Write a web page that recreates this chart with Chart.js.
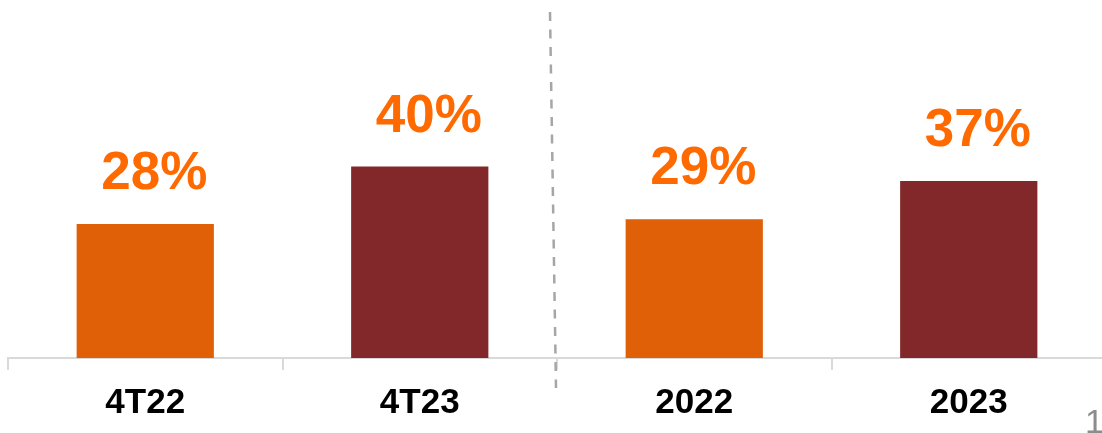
<!DOCTYPE html>
<html>
<head>
<meta charset="utf-8">
<script src="https://cdn.jsdelivr.net/npm/chart.js@4/dist/chart.umd.min.js"></script>
<style>
  html, body { margin: 0; padding: 0; background: #fff; overflow: hidden; }
  #wrap { position: relative; width: 1106px; height: 433px; }
  #page { position: absolute; left: 1085px; top: 402px; font: 34px "Liberation Sans", Arial, sans-serif; color: #8c8c8c; }
</style>
</head>
<body>
<div id="wrap">
  <canvas id="chart1" width="1106" height="433"></canvas>
  <div id="page">1</div>
</div>
<script>
const labels = ['4T22', '4T23', '2022', '2023'];
const values = [28, 40, 29, 37];
const barColors = ['#E06008', '#83282A', '#E06008', '#83282A'];

// percentage labels above each bar
const valueLabels = {
  id: 'valueLabels',
  afterDatasetsDraw(chart) {
    const ctx = chart.ctx;
    const meta = chart.getDatasetMeta(0);
    ctx.save();
    ctx.font = 'bold 53px "Liberation Sans", Arial, sans-serif';
    ctx.fillStyle = '#FF6A00';
    ctx.textAlign = 'center';
    ctx.textBaseline = 'alphabetic';
    meta.data.forEach((bar, i) => {
      ctx.fillText(values[i] + '%', bar.x + 9, bar.y - 35);
    });
    ctx.restore();
  }
};

// dashed separator between quarterly and yearly bars
const separator = {
  id: 'separator',
  afterDraw(chart) {
    const ctx = chart.ctx;
    const x = chart.scales.x;
    const mid = (x.getPixelForValue(1) + x.getPixelForValue(2)) / 2;
    ctx.save();
    ctx.strokeStyle = '#a6a6a6';
    ctx.lineWidth = 2.5;
    ctx.setLineDash([9, 8.5]);
    ctx.beginPath();
    ctx.moveTo(mid - 7, 12);
    ctx.lineTo(mid - 1, 388);
    ctx.stroke();
    ctx.restore();
  }
};

const ctx1 = document.getElementById('chart1').getContext('2d');
const chart1 = new Chart(ctx1, {
  type: 'bar',
  data: {
    labels: labels,
    datasets: [{
      data: values,
      backgroundColor: barColors,
      categoryPercentage: 1,
      barPercentage: 0.5
    }]
  },
  options: {
    responsive: false,
    animation: false,
    layout: { padding: { left: 8, right: 0, top: 23, bottom: -3 } },
    plugins: { legend: { display: false }, tooltip: { enabled: false } },
    scales: {
      y: { display: false, min: 0, max: 70 },
      x: {
        grid: { drawOnChartArea: false, drawTicks: true, tickLength: 12, color: '#d9d9d9', lineWidth: 2 },
        border: { display: true, color: '#d9d9d9', width: 2 },
        ticks: {
          color: '#000',
          padding: 12,
          font: { family: '"Liberation Sans", Arial, sans-serif', size: 35, weight: 'bold' }
        }
      }
    }
  },
  plugins: [valueLabels, separator]
});
</script>
</body>
</html>
